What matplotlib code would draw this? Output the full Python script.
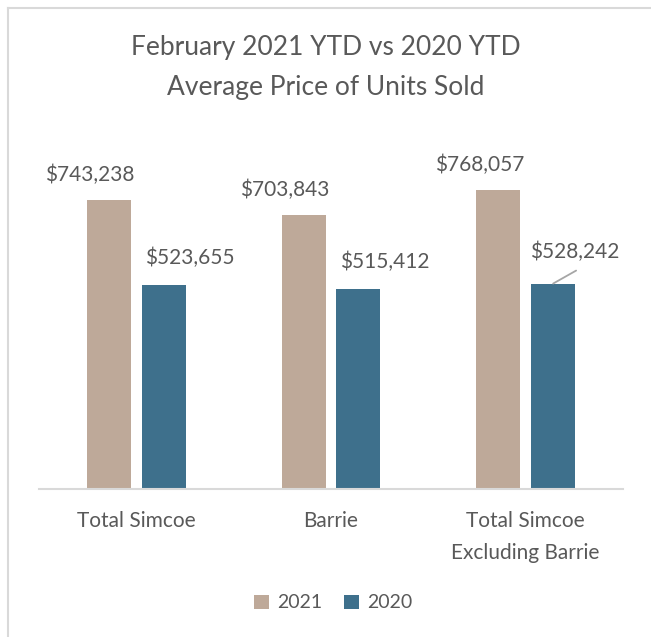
import matplotlib.pyplot as plt
from matplotlib.lines import Line2D
import numpy as np

categories = ['Total Simcoe', 'Barrie', 'Total Simcoe\nExcluding Barrie']
series_names = ['2021', '2020']
values_2021 = [743238, 703843, 768057]
values_2020 = [523655, 515412, 528242]

colors = ['#BEA999', '#3E708C']
text_color = '#595959'

plt.rcParams['font.family'] = ['Lato', 'DejaVu Sans']

fig = plt.figure(figsize=(6.51, 6.37), dpi=100)
ax = fig.add_axes([0.06, 0.232, 0.897, 0.55])

x = np.arange(len(categories))
w = 0.226
gap = 0.056
b1 = ax.bar(x - (w + gap) / 2, values_2021, w, color=colors[0], label=series_names[0])
b2 = ax.bar(x + (w + gap) / 2, values_2020, w, color=colors[1], label=series_names[1])

ax.set_xlim(-0.5, len(categories) - 0.5)
ax.set_ylim(0, 900000)
ax.set_yticks([])
ax.set_xticks(x)
ax.set_xticklabels(categories, fontsize=15, color=text_color, linespacing=1.7)
ax.tick_params(axis='x', length=0, pad=16)
for s in ['top', 'right', 'left']:
    ax.spines[s].set_visible(False)
ax.spines['bottom'].set_color('#D9D9D9')
ax.spines['bottom'].set_linewidth(1.5)

def fmt(v):
    return '${:,}'.format(v)

# data labels, offset outward from each pair like the original
for rect, v in zip(b1, values_2021):
    ax.annotate(fmt(v), (rect.get_x() + rect.get_width() / 2, v),
                xytext=(-19, 25), textcoords='offset pixels',
                ha='center', va='center', fontsize=15, color=text_color)
for i, (rect, v) in enumerate(zip(b2, values_2020)):
    cx = rect.get_x() + rect.get_width() / 2
    if i == 2:
        ax.annotate(fmt(v), (cx, v), xytext=(22, 32), textcoords='offset pixels',
                    ha='center', va='center', fontsize=15, color=text_color)
        ax.annotate('', (cx, v), xytext=(23, 13), textcoords='offset pixels',
                    arrowprops=dict(arrowstyle='-', color='#A6A6A6', lw=1.3,
                                    shrinkA=0, shrinkB=0))
    else:
        ax.annotate(fmt(v), (cx, v), xytext=(26, 27), textcoords='offset pixels',
                    ha='center', va='center', fontsize=15, color=text_color)

fig.text(0.5, 1 - 47 / 637, 'February 2021 YTD vs 2020 YTD', ha='center', va='center',
         fontsize=19, color=text_color)
fig.text(0.5, 1 - 87 / 637, 'Average Price of Units Sold', ha='center', va='center',
         fontsize=19, color=text_color)

fig.legend(handles=[b1, b2], labels=series_names, loc='center',
           bbox_to_anchor=(0.512, 1 - 603 / 637), ncol=2, frameon=False,
           fontsize=14, labelcolor=text_color, handlelength=0.75, handleheight=0.75,
           handletextpad=0.45, columnspacing=1.1)

# outer chart border (top and left visible)
fig.add_artist(Line2D([8 / 651, 1], [1 - 8 / 637, 1 - 8 / 637], transform=fig.transFigure,
                      color='#D9D9D9', lw=1.5))
fig.add_artist(Line2D([8 / 651, 8 / 651], [0, 1 - 8 / 637], transform=fig.transFigure,
                      color='#D9D9D9', lw=1.5))

fig.savefig('out.png', dpi=100, facecolor='white')
